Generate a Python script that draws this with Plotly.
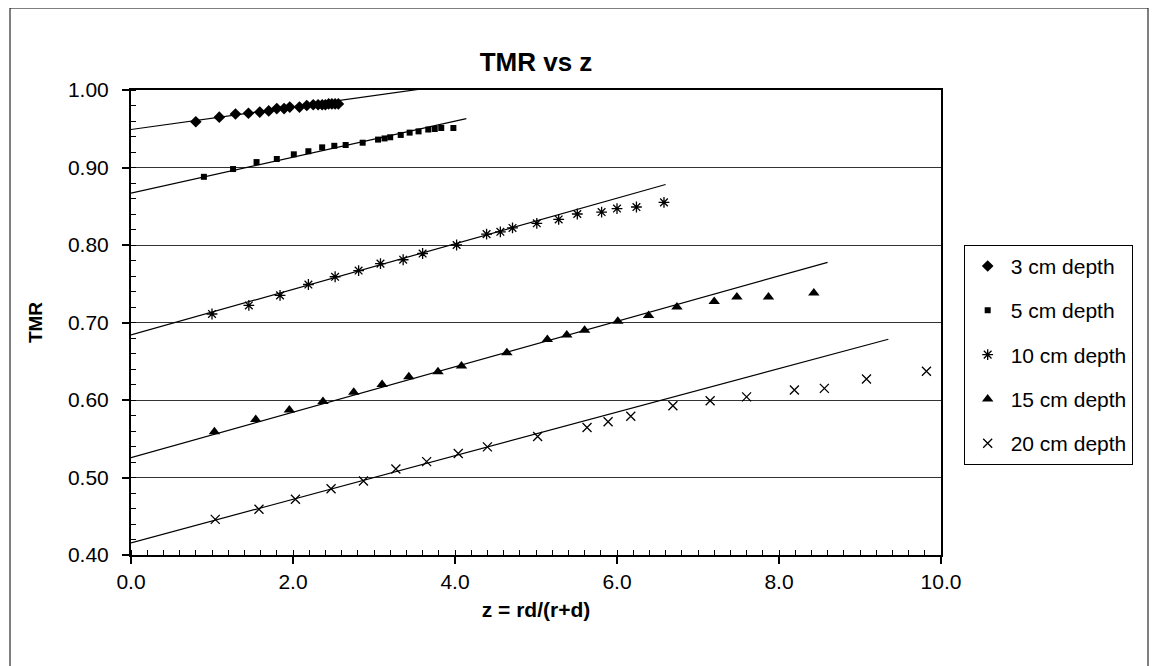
import numpy as np
import plotly.graph_objects as go

# ---- data ----
series_names = ["3 cm depth", "5 cm depth", "10 cm depth", "15 cm depth", "20 cm depth"]

z_3 = [0.80, 1.09, 1.29, 1.45, 1.59, 1.70, 1.80, 1.89, 1.96, 2.08, 2.17, 2.25, 2.31, 2.36, 2.40, 2.44, 2.48, 2.52, 2.56]
tmr_3 = [0.959, 0.965, 0.969, 0.970, 0.9715, 0.973, 0.976, 0.976, 0.978, 0.978, 0.980, 0.981, 0.981, 0.981, 0.981, 0.982, 0.982, 0.982, 0.982]

z_5 = [0.90, 1.26, 1.55, 1.80, 2.01, 2.19, 2.36, 2.51, 2.65, 2.86, 3.05, 3.13, 3.20, 3.33, 3.44, 3.55, 3.67, 3.75, 3.83, 3.98]
tmr_5 = [0.888, 0.898, 0.907, 0.911, 0.917, 0.921, 0.926, 0.928, 0.929, 0.932, 0.936, 0.9375, 0.939, 0.942, 0.945, 0.9466, 0.949, 0.9497, 0.951, 0.951]

z_10 = [1.00, 1.455, 1.84, 2.19, 2.52, 2.81, 3.08, 3.36, 3.60, 4.02, 4.39, 4.56, 4.71, 5.01, 5.28, 5.51, 5.81, 6.00, 6.24, 6.58]
tmr_10 = [0.711, 0.722, 0.735, 0.749, 0.759, 0.767, 0.776, 0.781, 0.789, 0.800, 0.814, 0.817, 0.822, 0.828, 0.833, 0.840, 0.8425, 0.847, 0.849, 0.855]

z_15 = [1.03, 1.54, 1.955, 2.37, 2.75, 3.10, 3.43, 3.79, 4.08, 4.64, 5.14, 5.38, 5.60, 6.01, 6.39, 6.74, 7.20, 7.48, 7.87, 8.43]
tmr_15 = [0.559, 0.575, 0.587, 0.598, 0.610, 0.620, 0.630, 0.6365, 0.644, 0.661, 0.678, 0.684, 0.690, 0.7015, 0.709, 0.720, 0.727, 0.733, 0.733, 0.738]

z_20 = [1.04, 1.58, 2.03, 2.47, 2.87, 3.27, 3.65, 4.04, 4.40, 5.02, 5.63, 5.89, 6.17, 6.69, 7.15, 7.60, 8.19, 8.56, 9.08, 9.82]
tmr_20 = [0.446, 0.459, 0.472, 0.4855, 0.4955, 0.511, 0.5205, 0.531, 0.5395, 0.553, 0.5645, 0.572, 0.579, 0.5925, 0.599, 0.604, 0.613, 0.615, 0.627, 0.637]

# linear trendlines (intercept, slope, end of line along z)
trend_intercept = [0.949, 0.867, 0.684, 0.5257, 0.4157]
trend_slope = [0.0146, 0.0232, 0.0294, 0.0293, 0.0281]
trend_end = [3.9, 4.14, 6.60, 8.60, 9.35]

x_ticks = [0.0, 2.0, 4.0, 6.0, 8.0, 10.0]
y_ticks = [0.40, 0.50, 0.60, 0.70, 0.80, 0.90, 1.00]

# ---- styling ----
xs = [z_3, z_5, z_10, z_15, z_20]
ys = [tmr_3, tmr_5, tmr_10, tmr_15, tmr_20]
symbols = ["diamond", "square", "asterisk-open", "triangle-up", "x-thin-open"]
sizes = [9, 6, 9, 10, 9]

fig = go.Figure()
for i in range(5):
    xl = np.array([0.0, trend_end[i]])
    fig.add_trace(go.Scatter(
        x=xl, y=trend_intercept[i] + trend_slope[i] * xl, mode="lines",
        line=dict(color="black", width=1.2), showlegend=False, hoverinfo="skip"))

for i in range(5):
    open_sym = symbols[i].endswith("open")
    fig.add_trace(go.Scatter(
        x=xs[i], y=ys[i], mode="markers", name=series_names[i],
        legendgroup=series_names[i],
        marker=dict(symbol=symbols[i], size=sizes[i], color="black",
                    line=dict(color="black", width=1.3 if open_sym else 0))))

# page body has an 8px margin; plot area target: x 131..941, y 90..555 (page px)
OFF = 8
W, H = 1150, 658
L, T = 131 - OFF, 90 - OFF
R = OFF + W - 941
B = OFF + H - 555

font_family = "Liberation Sans, Arial, sans-serif"
fig.update_layout(
    width=W, height=H,
    margin=dict(l=L, r=R, t=T, b=B),
    paper_bgcolor="white", plot_bgcolor="white",
    font=dict(family=font_family, size=21, color="black"),
    title=dict(text="<b>TMR vs z</b>", x=(131 + 941) / 2 / W - OFF / W, xanchor="center",
               y=1 - (62 - OFF) / H, yanchor="middle", font=dict(size=26)),
    legend=dict(x=1.028, y=0.667, xanchor="left", yanchor="top",
                bordercolor="black", borderwidth=1, bgcolor="white",
                font=dict(size=21), tracegroupgap=14, itemsizing="trace",
                itemwidth=36),
    showlegend=True,
)
fig.update_xaxes(
    range=[0, 10], tickvals=x_ticks, ticktext=[f"{v:.1f}" for v in x_ticks],
    showgrid=False, zeroline=False,
    showline=True, linecolor="black", linewidth=2, mirror=True,
    ticks="outside", ticklen=7, tickwidth=1.5, tickcolor="black",
    minor=dict(dtick=0.2, ticks="inside", ticklen=5, tickcolor="black", tickwidth=1, showgrid=False),
    title=dict(text="<b>z = rd/(r+d)</b>", font=dict(size=21), standoff=10),
    tickfont=dict(size=21),
)
fig.update_yaxes(
    range=[0.4, 1.0], tickvals=y_ticks, ticktext=[f"{v:.2f}" for v in y_ticks],
    showgrid=True, gridcolor="#333333", gridwidth=1, zeroline=False,
    showline=True, linecolor="black", linewidth=2, mirror=True,
    ticks="outside", ticklen=7, tickwidth=1.5, tickcolor="black",
    minor=dict(dtick=0.02, ticks="inside", ticklen=5, tickcolor="black", tickwidth=1, showgrid=False),
    title=dict(text="<b>TMR</b>", font=dict(size=19), standoff=20),
    tickfont=dict(size=21), ticklabelstandoff=9,
)

# outer chart frame
fig.add_shape(type="rect", xref="paper", yref="paper",
              x0=(10 - 131) / 810, x1=(1148 - 131) / 810,
              y0=-(680 - 555) / 465, y1=1 + (90 - 8) / 465,
              line=dict(color="black", width=1), fillcolor="rgba(0,0,0,0)", layer="below")

fig.write_html("out.html")
